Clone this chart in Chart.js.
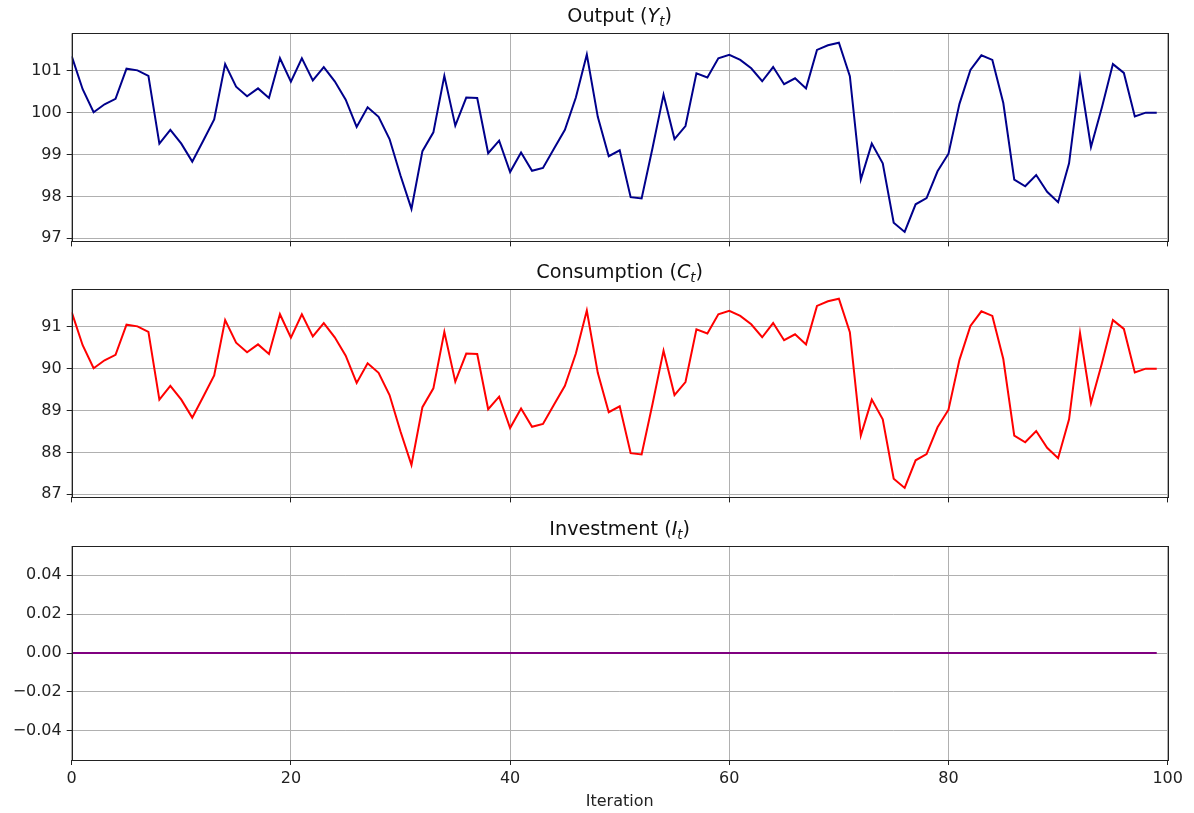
<!DOCTYPE html>
<html>
<head>
<meta charset="utf-8">
<title>Output, Consumption and Investment</title>
<script src="https://cdn.jsdelivr.net/npm/chart.js@4.4.1/dist/chart.umd.min.js"></script>
<style>
  body { margin: 0; background: #fff; }
  #wrap { position: relative; width: 1194px; height: 813px; }
  canvas { position: absolute; left: 0; }
</style>
</head>
<body>
<div id="wrap">
  <canvas id="output-chart" width="1194" height="256" style="top:0"></canvas>
  <canvas id="consumption-chart" width="1194" height="256" style="top:256px"></canvas>
  <canvas id="investment-chart" width="1194" height="301" style="top:512px"></canvas>
</div>
<script>
const outputValues = [
  101.35, 100.56, 100.01, 100.20, 100.33, 101.05, 101.01, 100.88, 99.26, 99.59,
  99.26, 98.83, 99.33, 99.84, 101.16, 100.62, 100.39, 100.58, 100.35, 101.30,
  100.74, 101.30, 100.77, 101.09, 100.75, 100.31, 99.66, 100.13, 99.90, 99.37,
  98.50, 97.70, 99.08, 99.53, 100.88, 99.69, 100.36, 100.35, 99.03, 99.33,
  98.58, 99.05, 98.61, 98.68, 99.14, 99.59, 100.36, 101.39, 99.90, 98.96,
  99.10, 97.98, 97.95, 99.16, 100.43, 99.37, 99.68, 100.94, 100.84, 101.30,
  101.38, 101.26, 101.06, 100.75, 101.09, 100.68, 100.82, 100.58, 101.50, 101.61,
  101.67, 100.87, 98.40, 99.26, 98.79, 97.37, 97.15, 97.81, 97.96, 98.60,
  99.02, 100.21, 101.02, 101.37, 101.26, 100.23, 98.40, 98.24, 98.51, 98.11,
  97.86, 98.79, 100.85, 99.18, 100.13, 101.16, 100.95, 99.91, 100.00, 100.00
];

const consumptionValues = [
  91.35, 90.56, 90.01, 90.20, 90.33, 91.05, 91.01, 90.88, 89.26, 89.59,
  89.26, 88.83, 89.33, 89.84, 91.16, 90.62, 90.39, 90.58, 90.35, 91.30,
  90.74, 91.30, 90.77, 91.09, 90.75, 90.31, 89.66, 90.13, 89.90, 89.37,
  88.50, 87.70, 89.08, 89.53, 90.88, 89.69, 90.36, 90.35, 89.03, 89.33,
  88.58, 89.05, 88.61, 88.68, 89.14, 89.59, 90.36, 91.39, 89.90, 88.96,
  89.10, 87.98, 87.95, 89.16, 90.43, 89.37, 89.68, 90.94, 90.84, 91.30,
  91.38, 91.26, 91.06, 90.75, 91.09, 90.68, 90.82, 90.58, 91.50, 91.61,
  91.67, 90.87, 88.40, 89.26, 88.79, 87.37, 87.15, 87.81, 87.96, 88.60,
  89.02, 90.21, 91.02, 91.37, 91.26, 90.23, 88.40, 88.24, 88.51, 88.11,
  87.86, 88.79, 90.85, 89.18, 90.13, 91.16, 90.95, 89.91, 90.00, 90.00
];

const investmentValues = [
  0, 0, 0, 0, 0, 0, 0, 0, 0, 0, 0, 0, 0, 0, 0, 0, 0, 0, 0, 0,
  0, 0, 0, 0, 0, 0, 0, 0, 0, 0, 0, 0, 0, 0, 0, 0, 0, 0, 0, 0,
  0, 0, 0, 0, 0, 0, 0, 0, 0, 0, 0, 0, 0, 0, 0, 0, 0, 0, 0, 0,
  0, 0, 0, 0, 0, 0, 0, 0, 0, 0, 0, 0, 0, 0, 0, 0, 0, 0, 0, 0,
  0, 0, 0, 0, 0, 0, 0, 0, 0, 0, 0, 0, 0, 0, 0, 0, 0, 0, 0, 0
];

const iterationTicks = [0, 20, 40, 60, 80, 100];
const outputTicks = [97, 98, 99, 100, 101];
const consumptionTicks = [87, 88, 89, 90, 91];
const investmentTicks = [-0.04, -0.02, 0, 0.02, 0.04];

Chart.defaults.font.family = '"DejaVu Sans", sans-serif';
Chart.defaults.font.size = 16;
Chart.defaults.color = '#222';

// data range plus 5% on each side, like matplotlib autoscaling
function paddedRange(values) {
  let lo = Math.min(...values), hi = Math.max(...values);
  if (lo === hi) { lo -= 0.05; hi += 0.05; }
  const m = (hi - lo) * 0.05;
  return { min: lo - m, max: hi + m };
}

// closed box around the plot area
const frame = {
  id: 'frame',
  afterDraw(chart) {
    const { ctx, chartArea: a } = chart;
    const l = Math.round(a.left) + 0.5, t = Math.round(a.top) + 0.5;
    const r = Math.round(a.right) + 0.5, b = Math.round(a.bottom) + 0.5;
    ctx.save();
    ctx.strokeStyle = '#222';
    ctx.lineWidth = 1;
    ctx.strokeRect(l, t, r - l, b - t);
    ctx.restore();
  }
};

// title like "Output (Y_t)" with italic symbol and subscript
const mathTitle = {
  id: 'mathTitle',
  afterDraw(chart, args, opts) {
    const { ctx, chartArea: a } = chart;
    const parts = [
      { text: opts.name + ' (', font: '19.2px "DejaVu Sans"', dy: 0 },
      { text: opts.symbol, font: 'italic 19.2px "DejaVu Sans"', dy: 0 },
      { text: 't', font: 'italic 13.4px "DejaVu Sans"', dy: 4 },
      { text: ')', font: '19.2px "DejaVu Sans"', dy: 0 }
    ];
    ctx.save();
    let total = 0;
    parts.forEach(p => { ctx.font = p.font; p.w = ctx.measureText(p.text).width; total += p.w; });
    let x = (a.left + a.right) / 2 - total / 2;
    const y = a.top - 11;
    ctx.fillStyle = '#111';
    ctx.textBaseline = 'alphabetic';
    ctx.textAlign = 'left';
    parts.forEach(p => {
      ctx.font = p.font;
      ctx.fillText(p.text, x, y + p.dy);
      x += p.w;
    });
    ctx.restore();
  }
};

function drawPanel(id, values, color, yTicks, yFormat, title, padTop, xAxisHeight, showX) {
  const range = paddedRange(values);
  return new Chart(document.getElementById(id), {
    type: 'line',
    data: {
      datasets: [{
        data: values.map((v, i) => ({ x: i, y: v })),
        borderColor: color,
        borderWidth: 2,
        pointRadius: 0,
        tension: 0,
        fill: false
      }]
    },
    options: {
      responsive: false,
      animation: false,
      devicePixelRatio: 1,
      layout: { padding: { left: 0, right: 26.3, top: padTop, bottom: 0 } },
      plugins: {
        legend: { display: false },
        tooltip: { enabled: false },
        mathTitle: title
      },
      scales: {
        x: {
          type: 'linear',
          min: 0,
          max: 100,
          afterBuildTicks: s => { s.ticks = iterationTicks.map(v => ({ value: v })); },
          afterFit: s => { s.height = xAxisHeight; },
          grid: { color: '#b0b0b0', lineWidth: 1, tickColor: '#222', tickLength: 5 },
          border: { display: false },
          ticks: { display: showX, padding: 4, maxRotation: 0, autoSkip: false },
          title: { display: showX, text: 'Iteration', padding: { top: 0, bottom: 2 } }
        },
        y: {
          min: range.min,
          max: range.max,
          afterBuildTicks: s => { s.ticks = yTicks.map(v => ({ value: v })); },
          afterFit: s => { s.width = 71.7; },
          grid: { color: '#b0b0b0', lineWidth: 1, tickColor: '#222', tickLength: 5 },
          border: { display: false },
          ticks: { padding: 5, autoSkip: false, callback: yFormat }
        }
      }
    },
    plugins: [frame, mathTitle]
  });
}

const wholeNumber = v => String(v);
const twoDecimals = v => v.toFixed(2).replace('-', '\u2212');

drawPanel('output-chart', outputValues, '#00008b', outputTicks, wholeNumber,
  { name: 'Output', symbol: 'Y' }, 33.3, 10.3, false);
drawPanel('consumption-chart', consumptionValues, '#ff0000', consumptionTicks, wholeNumber,
  { name: 'Consumption', symbol: 'C' }, 33.3, 10.3, false);
drawPanel('investment-chart', investmentValues, '#800080', investmentTicks, twoDecimals,
  { name: 'Investment', symbol: 'I' }, 34, 53, true);
</script>
</body>
</html>
